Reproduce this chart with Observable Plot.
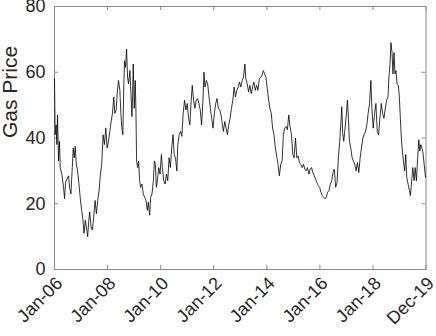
<!DOCTYPE html>
<html>
<head>
<meta charset="utf-8">
<script src="https://cdn.jsdelivr.net/npm/d3@7"></script>
<script src="https://cdn.jsdelivr.net/npm/@observablehq/plot@0.6"></script>
<style>
  html, body { margin: 0; padding: 0; background: #fff; }
  #chart { width: 436px; height: 336px; }
</style>
</head>
<body>
<div id="chart"></div>
<script>
// months since 1 Jan 2006
const months = [0,0.3,0.76,1.06,1.36,1.82,2.27,2.58,3.33,4.09,4.55,5.0,5.6,6.36,6.82,7.42,8.03,8.48,8.94,9.39,9.85,10.45,11.06,11.67,12.27,12.88,13.33,13.94,14.39,15.0,15.45,15.91,16.52,17.12,17.73,18.33,18.94,19.55,20.15,20.76,21.36,21.97,22.58,23.18,23.79,24.39,25.0,25.6,26.2,26.8,27.27,27.88,28.33,28.94,29.55,30.0,30.45,30.9,31.36,31.67,32.12,32.58,33.03,33.48,34.09,34.55,35.0,35.3,35.6,36.06,36.5,36.8,37.12,37.58,38.03,38.48,38.94,39.55,40.15,40.76,41.36,41.97,42.42,43.03,43.48,44.09,44.7,45.15,45.6,46.06,46.67,47.12,47.73,48.33,48.79,49.39,50.0,50.6,51.2,51.8,52.4,53.0,53.6,54.1,54.7,55.3,55.76,56.36,56.97,57.58,58.18,58.79,59.39,60.0,60.6,61.2,61.8,62.27,62.88,63.48,64.09,64.7,65.3,65.9,66.5,67.12,67.58,68.03,68.64,69.24,69.85,70.45,71.06,71.67,72.27,72.88,73.48,74.09,74.7,75.3,75.9,76.36,76.97,77.58,78.18,78.79,79.39,80.0,80.6,81.2,81.8,82.42,83.03,83.64,84.24,84.85,85.45,86.06,86.5,87.12,87.73,88.33,88.94,89.55,90.15,90.76,91.36,91.97,92.58,93.18,93.79,94.39,95.0,95.6,96.2,96.8,97.4,98.0,98.6,99.24,99.85,100.45,101.06,101.67,102.27,102.88,103.48,104.09,104.7,105.3,105.9,106.5,107.12,107.73,108.33,108.94,109.55,110.15,110.76,111.36,111.97,112.58,113.18,113.79,114.39,115.0,115.6,116.2,116.8,117.4,118.0,118.6,119.24,119.85,120.45,121.06,121.67,122.27,122.88,123.48,124.09,124.7,125.3,125.9,126.5,127.12,127.73,128.33,128.94,129.55,129.85,130.3,130.76,131.36,131.97,132.42,132.88,133.33,133.94,134.55,135.15,135.76,136.36,136.97,137.58,138.18,138.79,139.39,140.0,140.6,141.2,141.8,142.42,143.03,143.48,144.09,144.7,145.3,145.9,146.5,147.12,147.73,148.33,148.94,149.55,150.15,150.76,151.2,151.67,152.12,152.58,153.03,153.48,153.94,154.39,154.85,155.45,155.9,156.36,156.8,157.27,157.73,158.33,158.79,159.24,159.85,160.45,160.9,161.36,161.97,162.58,163.03,163.64,164.09,164.7,165.15,165.6,166.06,166.5,167.12,167.73];
const price = [58,41,44,38,47,33,39,31,29,25,21.5,26.5,27.5,28.5,25,23,31,37,34,37.5,32,30,26,21.5,18,15,11,15,13,10,14.5,17.5,13,12,16,21,17,21,24,29,32,41,38,43,37,39,42,45,47.5,52.5,47.5,48.5,53.5,57.5,54.5,47.5,43,41,56.5,63.5,61.5,67,58.5,56.5,60.5,53.5,46.5,52.5,62.5,49,57.5,49,33,31,33,27,25,26,23,22,21,18,20.5,16.5,22,23,27,33,32,25,28,31,29,35,31,27,26,29,27,34,31,37,41,35,34,30,38,41,42,40.5,47.5,51.5,48.5,50.5,46,44,51.5,56,51.5,49,51.5,52,50.5,48.5,44,51.5,60,55.5,57.5,56.5,52.5,49,46,43,47.5,50.5,52,49,48.5,47,44,42,45,43,41,44,46,49,51.5,55.5,52.5,54.5,55.5,57,55.5,57.5,58.5,62.5,58,56.5,54,56,53.5,55.5,57,54.5,56,54.5,58,58.5,59,60.5,59.5,58.5,55,51.5,49,47.5,43,41,37,34.5,32,28.5,32,33,41,43,43.5,42.5,47,43.5,41,35,34,40,34,34.5,32.5,32,31,32,30.5,30,31,29,30.5,31,29.5,28.5,27.5,26.5,25.5,25,23.5,22.5,22,21.5,22,23.5,24,26,27,29.5,30.5,25,26.5,34,39,45.5,49.5,41.5,39,43,47.5,51.5,46,39,37,34,33,32,30,32.5,29.5,34,37,40,41,42,44,47.5,50.5,57.5,49,43,47.5,50.5,42,41,46,50.5,47.5,46,49,51.5,52.5,58.5,62.5,69,66,59.5,66,59.5,60.5,56.5,56,52.5,46,40,36,33,30,35,28,26,24,22.5,26,31,27,31,27,33,39.5,36,38,37,36,32,28];

const xTickDates = ["2006-01-01","2008-01-01","2010-01-01","2012-01-01","2014-01-01","2016-01-01","2018-01-01","2019-12-31"];
const xTickLabels = ["Jan-06","Jan-08","Jan-10","Jan-12","Jan-14","Jan-16","Jan-18","Dec-19"];
const yTicks = [0, 20, 40, 60, 80];
const yLabel = "Gas Price";

const DAY = 86400000;
const t0 = Date.UTC(2006, 0, 1);
const data = months.map((m, i) => ({date: new Date(t0 + m * 30.4375 * DAY), value: price[i]}));
const xt = xTickDates.map((s, i) => ({date: new Date(s + "T00:00Z"), label: xTickLabels[i]}));

const W = 436, H = 336, mL = 54, mR = 10.5, mT = 6, mB = 67;
const fw = W - mL - mR, fh = H - mT - mB;
const font = "'Liberation Sans', Arial, Helvetica, sans-serif";
const ink = "#262626";
const frameColor = "#8a8a8a";
const tl = 4;

const chart = Plot.plot({
  width: W, height: H,
  marginLeft: mL, marginRight: mR, marginTop: mT, marginBottom: mB,
  style: {fontFamily: font, background: "#fff", color: ink},
  x: {type: "utc", domain: [new Date(t0), new Date(Date.UTC(2019, 11, 31))], axis: null},
  y: {domain: [0, 80], axis: null},
  marks: [
    Plot.frame({stroke: frameColor, strokeWidth: 1}),
    Plot.tickX(xt, {x: "date", stroke: frameColor, insetTop: fh - tl}),
    Plot.tickX(xt, {x: "date", stroke: frameColor, insetBottom: fh - tl}),
    Plot.tickY(yTicks, {y: d => d, stroke: frameColor, insetRight: fw - tl}),
    Plot.tickY(yTicks, {y: d => d, stroke: frameColor, insetLeft: fw - tl}),
    Plot.lineY(data, {x: "date", y: "value", stroke: "#000", strokeWidth: 0.8}),
    Plot.text(yTicks, {y: d => d, text: d => String(d), frameAnchor: "left", textAnchor: "end", dx: -9, fontSize: 18, fill: ink}),
    Plot.text(xt, {x: "date", text: "label", frameAnchor: "bottom", textAnchor: "end", lineAnchor: "bottom", rotate: -45, dx: 9, dy: 15, fontSize: 18, fill: ink}),
    Plot.text([yLabel], {text: d => d, frameAnchor: "left", rotate: -90, dx: -44, fontSize: 21, fill: ink})
  ]
});
document.getElementById("chart").appendChild(chart);
</script>
</body>
</html>
